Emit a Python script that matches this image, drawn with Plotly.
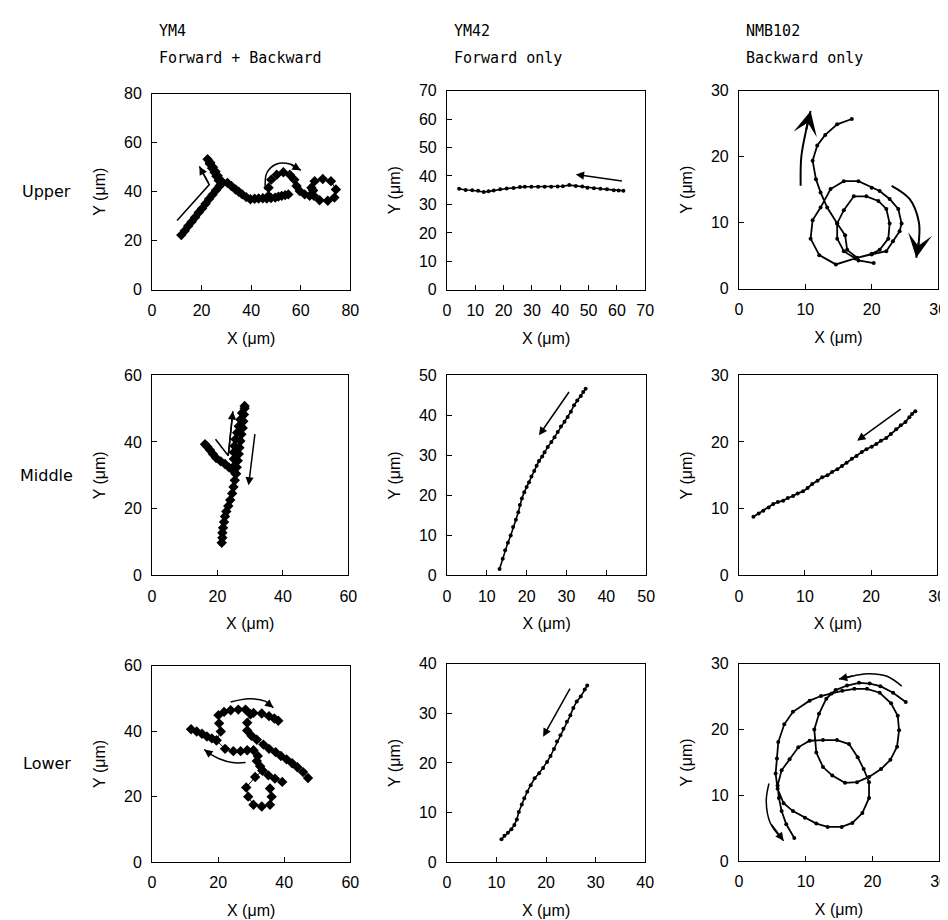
import plotly.graph_objects as go

W, H = 948, 920

# ---------------- data (µm) ----------------
# Upper row
upper_ym4_x = [11.8, 13.2, 14.6, 16.0, 17.4, 18.8, 20.2, 21.6, 23.0, 24.4, 25.8, 27.2, 27.8,
               26.9, 26.0, 25.2, 24.2, 23.3, 22.4,
               23.5, 24.6, 25.6, 26.5, 27.4, 28.4,
               30.4, 32.0, 33.7, 35.0, 36.4, 38.0, 39.7, 41.4, 43.0, 44.7, 46.3, 48.0, 49.7, 51.0, 52.3, 53.7, 55.0,
               None,
               47.0, 47.0, 48.1, 50.3, 53.0, 55.6, 57.4, 58.3, 59.6, 61.6, 63.6,
               64.3, 65.6, 68.9, 72.2, 74.2, 73.6, 70.9, 67.6, 65.3, 65.0]
upper_ym4_y = [22.3, 24.1, 26.0, 27.8, 29.6, 31.5, 33.2, 35.1, 37.0, 38.8, 40.6, 42.3, 43.0,
               44.6, 46.3, 47.9, 49.6, 51.4, 53.2,
               51.8, 50.0, 48.2, 46.5, 44.9, 43.8,
               43.6, 42.3, 40.9, 40.0, 38.9, 37.8, 36.9, 37.1, 37.2, 37.3, 37.2, 37.4, 37.6, 38.0, 38.3, 38.6, 38.9,
               None,
               38.3, 41.6, 44.9, 46.9, 47.9, 46.9, 44.9, 42.3, 40.3, 38.9, 38.3,
               41.6, 44.3, 45.2, 44.3, 40.9, 37.6, 36.3, 36.5, 38.3, 40.5]

upper_ym42_x = [4.3, 6.6, 8.9, 11.0, 13.0, 14.7, 16.5, 18.8, 21.1, 23.5, 25.8, 27.5, 29.8, 32.2,
                34.5, 36.8, 39.1, 40.9, 43.2, 45.5, 47.8, 49.6, 51.9, 54.2, 56.5, 58.9, 60.6, 62.3]
upper_ym42_y = [35.5, 35.1, 35.0, 34.8, 34.4, 34.6, 34.9, 35.3, 35.6, 35.8, 36.1, 36.2, 36.2, 36.2,
                36.2, 36.2, 36.3, 36.4, 36.8, 36.5, 36.3, 35.9, 35.7, 35.5, 35.3, 35.0, 34.9, 34.8]

upper_nmb102_x = [20.3, 18.0, 15.8, 14.8, 14.8, 15.8, 17.3, 19.2, 21.0, 22.2, 22.7, 22.5, 21.2, 20.0,
                  17.5, 14.6, 12.1, 10.8, 11.1, 12.3, 13.8, 15.8, 18.0, 20.0, 21.2, 22.7, 24.0, 24.5,
                  24.2, 23.2, 22.2, 20.0, 17.8, 16.3, 16.0, 14.8, 13.3, 12.3, 11.6, 11.1, 11.8, 13.0,
                  14.8, 17.0]
upper_nmb102_y = [3.9, 4.3, 5.7, 7.6, 9.9, 11.9, 14.0, 14.0, 13.3, 12.1, 9.9, 7.6, 5.9, 5.3,
                  4.6, 3.7, 5.1, 7.6, 10.4, 12.3, 15.1, 16.3, 16.3, 15.3, 14.8, 13.6, 12.1, 9.9,
                  8.7, 7.2, 5.7, 5.2, 4.7, 5.9, 8.1, 9.9, 12.3, 14.6, 16.6, 19.4, 21.7, 23.3,
                  24.9, 25.7]

# Middle row
middle_ym4_x = [16.2, 16.9, 17.7, 18.6, 19.6, 21.0, 22.3, 23.5, 24.7, 25.5,
                25.2, 25.0, 25.0, 25.2, 25.5, 26.0, 26.5, 27.0, 27.5, 28.3,
                28.3, 28.1, 27.9, 27.7, 27.3, 27.0, 26.7, 26.5, 26.2, 25.9, 25.7,
                25.3, 24.9, 24.5, 23.9, 23.3, 22.7, 22.3, 22.0, 21.7, 21.5, 21.5, 21.3]
middle_ym4_y = [39.3, 38.6, 37.6, 36.4, 35.2, 34.2, 33.4, 32.4, 31.5, 30.5,
                32.9, 34.9, 36.9, 38.8, 40.8, 42.8, 44.7, 46.7, 48.7, 50.8,
                50.1, 48.2, 46.2, 44.2, 42.3, 40.3, 38.3, 36.4, 34.4, 32.4, 30.5,
                28.5, 26.5, 24.6, 22.6, 20.8, 19.2, 17.7, 16.0, 14.3, 12.8, 11.3, 9.8]

middle_ym42_x = [13.2, 14.0, 14.6, 15.3, 16.0, 16.6, 17.3, 17.9, 18.3, 18.8, 19.4, 20.0, 20.6, 21.2,
                 21.9, 22.5, 23.1, 23.9, 24.5, 25.3, 26.2, 27.0, 27.8, 28.6, 29.5, 30.3, 31.1, 31.9,
                 32.7, 33.6, 34.2, 34.8]
middle_ym42_y = [1.6, 4.2, 6.3, 8.2, 10.0, 12.1, 13.9, 15.8, 17.6, 19.2, 20.8, 22.1, 23.3, 24.7,
                 26.1, 27.4, 28.6, 29.7, 30.8, 32.1, 33.3, 34.5, 35.8, 37.2, 38.4, 39.6, 40.9, 42.5,
                 43.7, 44.8, 45.8, 46.6]

middle_nmb102_x = [2.2, 3.0, 3.7, 4.5, 5.2, 5.9, 6.7, 7.4, 8.2, 8.9, 9.7, 10.4, 11.1, 11.9, 12.6,
                   13.4, 14.1, 14.9, 15.6, 16.3, 17.1, 17.8, 18.6, 19.3, 20.1, 20.8, 21.5, 22.3,
                   23.0, 23.8, 24.5, 25.2, 25.8, 26.2, 26.7]
middle_nmb102_y = [8.8, 9.3, 9.7, 10.2, 10.7, 11.0, 11.2, 11.6, 11.9, 12.3, 12.6, 13.1, 13.7, 14.2,
                   14.7, 15.0, 15.5, 15.9, 16.4, 16.9, 17.5, 17.9, 18.5, 18.9, 19.3, 19.7, 20.2,
                   20.6, 21.2, 21.9, 22.5, 23.0, 23.7, 24.2, 24.6]

# Lower row
lower_ym4_x = [11.8, 13.5, 15.1, 16.6, 18.1, 19.5, 20.8, 20.3, 20.1, 21.8, 23.8, 26.1, 28.3, 30.7,
               33.2, 35.4, 37.0, 38.2,
               None,
               19.5, 22.1, 24.6, 26.8, 28.8, 30.7, 32.0, 31.7, 32.7, 33.4, 35.2, 37.2, 39.4,
               None,
               33.4, 31.2, 28.5, 29.1, 30.7, 33.2, 35.7, 36.2, 35.7,
               None,
               29.8, 28.8, 28.8, 30.1, 31.7, 33.7, 35.4, 37.4, 39.0, 40.7, 42.4, 44.0, 45.7, 47.2]
lower_ym4_y = [40.6, 39.9, 39.2, 38.4, 37.8, 37.2, 39.9, 42.4, 44.9, 45.9, 46.4, 46.6, 46.6, 45.6,
               45.4, 44.6, 43.9, 43.2,
               None,
               37.2, 34.6, 33.9, 33.9, 34.2, 34.2, 32.4, 30.9, 29.3, 28.0, 26.5, 25.5, 24.5,
               None,
               28.0, 26.0, 22.8, 20.0, 17.5, 17.0, 17.5, 20.0, 22.5,
               None,
               45.2, 42.6, 40.2, 38.6, 37.4, 35.9, 34.6, 33.6, 32.4, 31.4, 30.2, 29.0, 27.5, 25.7]

lower_ym42_x = [11.0, 11.6, 12.3, 13.0, 13.6, 14.1, 14.5, 15.1, 15.6, 16.2, 16.9, 17.7, 18.6, 19.4,
                20.2, 20.9, 21.6, 22.2, 22.9, 23.5, 24.2, 24.9, 25.5, 26.2, 27.0, 27.8, 28.3]
lower_ym42_y = [4.6, 5.3, 5.9, 6.6, 7.5, 8.6, 10.1, 11.6, 12.9, 14.2, 15.5, 16.9, 17.9, 19.0,
                20.2, 21.4, 22.8, 24.3, 25.6, 26.9, 28.3, 29.6, 31.1, 32.4, 33.4, 34.8, 35.6]

lower_nmb102_x = [25.0, 23.1, 21.2, 19.6, 18.0, 16.2, 14.5, 13.1, 12.0, 11.3, 11.6, 12.6, 14.0, 15.9,
                  17.7, 19.5, 21.3, 22.7, 23.7, 24.0, 23.8, 22.8, 21.1, 19.2, 17.3, 15.5, 13.9, 12.3,
                  10.6, 8.1, 6.8, 5.9, 5.7, 5.5, 5.8, 6.7, 8.1, 9.9, 11.6, 13.3, 15.4, 17.0, 18.5,
                  19.5, 19.5, 18.7, 17.8, 16.5, 14.7, 12.6, 10.6, 8.9, 7.6, 6.4, 5.8, 6.0, 6.4, 7.1, 8.3]
lower_nmb102_y = [24.2, 25.6, 26.6, 27.0, 27.1, 26.7, 26.0, 24.7, 22.4, 20.0, 16.5, 14.3, 13.0, 11.9,
                  12.0, 12.8, 14.0, 15.4, 17.4, 19.9, 22.1, 24.0, 25.6, 26.2, 26.2, 25.9, 25.5, 25.1,
                  24.4, 22.7, 20.8, 18.1, 15.6, 13.3, 11.0, 8.8, 7.6, 6.6, 5.7, 5.2, 5.2, 5.8, 7.3,
                  9.6, 12.0, 14.0, 15.8, 17.8, 18.4, 18.4, 18.3, 17.3, 15.5, 13.8, 11.5, 9.6, 7.6, 5.6, 3.5]

# axis extents / tick steps (panel order: upper L,M,R, middle L,M,R, lower L,M,R)
axis_max = [80, 70, 30, 60, 50, 30, 60, 40, 30]
axis_dtick = [20, 10, 10, 20, 10, 10, 20, 10, 10]

strain_names = ["YM4", "YM42", "NMB102"]
strain_modes = ["Forward + Backward", "Forward only", "Backward only"]
row_names = ["Upper", "Middle", "Lower"]

# direction arrows (data coords, last point = arrow head)
arrows_upper_ym4 = [([10.1, 23.1, 19.1], [28.3, 42.9, 50.3], False),
                    ([45.7, 46.3, 50.3, 55.6, 60.0], [40.9, 47.6, 51.3, 51.3, 48.7], True)]
arrows_upper_ym42 = [([62.3, 45.5], [38.2, 40.5], False)]
arrows_upper_nmb102 = [([9.3, 9.4, 10.1, 10.8], [15.6, 20.0, 23.9, 26.9], True),
                       ([23.0, 25.7, 27.1, 27.1, 26.7], [15.6, 13.6, 10.1, 7.2, 4.7], True)]
arrows_middle_ym4 = [([19.4, 23.3, 24.7], [40.8, 35.9, 49.2], False),
                     ([31.5, 29.5], [42.8, 27.0], False)]
arrows_middle_ym42 = [([30.9, 23.1], [46.2, 35.0], False)]
arrows_middle_nmb102 = [([24.7, 17.9], [25.1, 20.2], False)]
arrows_lower_ym4 = [([23.8, 29.3, 34.2, 36.7], [48.9, 49.9, 49.2, 47.2], True),
                    ([28.3, 24.3, 20.3, 17.8, 15.8], [30.4, 30.4, 31.6, 32.9, 34.4], True)]
arrows_lower_ym42 = [([25.0, 19.4], [35.3, 25.3], False)]
arrows_lower_nmb102 = [([24.4, 22.2, 19.5, 17.3, 15.0], [26.6, 28.1, 28.5, 28.2, 27.7], True),
                       ([4.5, 4.1, 4.7, 6.7], [11.8, 9.1, 5.8, 3.1], True)]

panels = [
    (upper_ym4_x, upper_ym4_y, arrows_upper_ym4),
    (upper_ym42_x, upper_ym42_y, arrows_upper_ym42),
    (upper_nmb102_x, upper_nmb102_y, arrows_upper_nmb102),
    (middle_ym4_x, middle_ym4_y, arrows_middle_ym4),
    (middle_ym42_x, middle_ym42_y, arrows_middle_ym42),
    (middle_nmb102_x, middle_nmb102_y, arrows_middle_nmb102),
    (lower_ym4_x, lower_ym4_y, arrows_lower_ym4),
    (lower_ym42_x, lower_ym42_y, arrows_lower_ym42),
    (lower_nmb102_x, lower_nmb102_y, arrows_lower_nmb102),
]

# ---------------- layout geometry (pixels) ----------------
boxes = [
    (142, 343, 79, 279), (441, 642, 76, 279), (737, 939, 76, 278),
    (142, 341, 366, 570), (441, 643, 366, 570), (737, 938, 366, 570),
    (142, 343, 662, 862), (441, 642, 660, 862), (737, 940, 660, 861),
]

TICK_FONT = dict(family="Liberation Sans, Arial, sans-serif", size=16, color="black")
LABEL_FONT = dict(family="DejaVu Sans Mono, monospace", size=15, color="black")

fig = go.Figure()
annotations = []
layout = dict(
    width=W, height=H,
    margin=dict(l=0, r=0, t=0, b=0),
    paper_bgcolor="white", plot_bgcolor="white",
    showlegend=False,
)

for i, ((px, py, arrows), (x0, x1, y0, y1)) in enumerate(zip(panels, boxes)):
    k = i + 1
    xr = "x" if k == 1 else f"x{k}"
    yr = "y" if k == 1 else f"y{k}"
    col = i % 3
    is_ym4 = col == 0
    fig.add_trace(go.Scatter(
        x=px, y=py, xaxis=xr, yaxis=yr,
        mode="lines+markers",
        line=dict(color="black", width=1 if is_ym4 else (1.8 if col == 2 else 1.6)),
        marker=dict(symbol="diamond" if is_ym4 else "circle",
                    size=8 if is_ym4 else 4, color="black"),
        connectgaps=False, hoverinfo="skip",
    ))
    big = (i == 2)
    for ax_list, ay_list, curved in arrows:
        if len(ax_list) > 2:
            fig.add_trace(go.Scatter(
                x=ax_list, y=ay_list, xaxis=xr, yaxis=yr,
                mode="lines",
                line=dict(color="black", width=2 if big else 1.5,
                          shape="spline" if curved else "linear"),
                hoverinfo="skip",
            ))
        annotations.append(dict(
            x=ax_list[-1], y=ay_list[-1], ax=ax_list[-2], ay=ay_list[-2],
            xref=xr, yref=yr, axref=xr, ayref=yr,
            text="", showarrow=True,
            arrowhead=3 if big else 2,
            arrowsize=2.0 if big else 1.1,
            arrowwidth=2 if big else 1.5,
            arrowcolor="black", standoff=0, startstandoff=0,
        ))
    common = dict(
        range=[0, axis_max[i]], tick0=0, dtick=axis_dtick[i],
        ticks="inside", ticklen=5, tickwidth=1, tickcolor="black",
        showline=True, mirror=True, linecolor="black", linewidth=1,
        showgrid=False, zeroline=False, tickfont=TICK_FONT,
        ticklabelstandoff=6,
    )
    layout["xaxis" if k == 1 else f"xaxis{k}"] = dict(
        common, domain=[x0 / W, x1 / W], anchor=yr,
        title=dict(text="X (μm)", font=TICK_FONT, standoff=14),
    )
    layout["yaxis" if k == 1 else f"yaxis{k}"] = dict(
        common, domain=[1 - y1 / H, 1 - y0 / H], anchor=xr,
        title=dict(text="Y (μm)", font=TICK_FONT, standoff=14),
    )

# column headers
for c, (name, mode) in enumerate(zip(strain_names, strain_modes)):
    left = boxes[c][0] + 5
    annotations.append(dict(x=left / W, y=1 - 15 / H, xref="paper", yref="paper",
                            text=name, showarrow=False, xanchor="left", yanchor="middle",
                            font=LABEL_FONT))
    annotations.append(dict(x=left / W, y=1 - 43 / H, xref="paper", yref="paper",
                            text=mode, showarrow=False, xanchor="left", yanchor="middle",
                            font=LABEL_FONT))

# row labels
for r, name in enumerate(row_names):
    b = boxes[r * 3]
    cy = (b[2] + b[3]) / 2
    annotations.append(dict(x=35 / W, y=1 - cy / H, xref="paper", yref="paper",
                            text=name, showarrow=False, xanchor="center", yanchor="middle",
                            font=dict(family="DejaVu Sans, sans-serif", size=16, color="black")))

layout["annotations"] = annotations
fig.update_layout(**layout)
fig.write_html("out.html")
